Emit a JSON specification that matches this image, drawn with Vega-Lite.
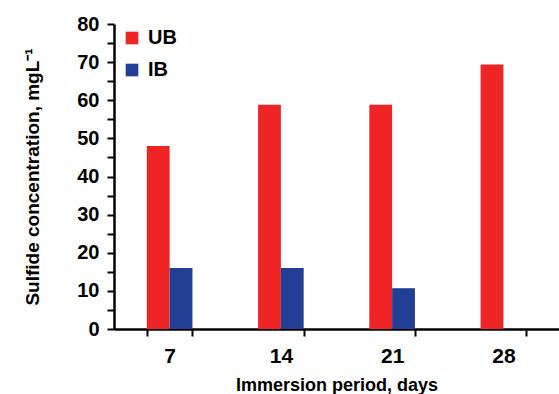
{
  "$schema": "https://vega.github.io/schema/vega-lite/v6.json",
  "width": 445,
  "height": 305,
  "autosize": {"type": "none"},
  "padding": {"left": 114, "top": 24, "right": 0, "bottom": 65},
  "background": "white",
  "config": {
    "font": "Liberation Sans",
    "view": {"stroke": null},
    "axis": {"grid": false, "domainColor": "black", "domainWidth": 2.5, "tickColor": "black", "tickWidth": 2, "labelFont": "Liberation Sans", "titleFont": "Liberation Sans", "labelFontWeight": "bold", "titleFontWeight": "bold", "labelColor": "black", "titleColor": "black"}
  },
  "data": {
    "values": [
      {"day": "7", "series": "UB", "value": 48.0},
      {"day": "7", "series": "IB", "value": 16.0},
      {"day": "14", "series": "UB", "value": 58.8},
      {"day": "14", "series": "IB", "value": 16.0},
      {"day": "21", "series": "UB", "value": 58.8},
      {"day": "21", "series": "IB", "value": 10.7},
      {"day": "28", "series": "UB", "value": 69.4}
    ]
  },
  "mark": {"type": "bar"},
  "encoding": {
    "x": {
      "field": "day", "type": "nominal", "sort": ["7", "14", "21", "28"],
      "scale": {"paddingInner": 0.59, "paddingOuter": 0.295},
      "axis": {"title": "Immersion period, days", "labelAngle": 0, "labelFontSize": 21, "titleFontSize": 18, "tickBand": "extent", "tickSize": 7, "labelPadding": 9, "titlePadding": 10}
    },
    "xOffset": {"field": "series", "type": "nominal", "sort": ["UB", "IB"]},
    "y": {
      "field": "value", "type": "quantitative",
      "scale": {"domain": [0, 80], "nice": false},
      "axis": {"title": "Sulfide concentration, mgL⁻¹", "values": [0,5,10,15,20,25,30,35,40,45,50,55,60,65,70,75,80], "labelExpr": "datum.value % 10 == 0 ? datum.label : ''", "labelFontSize": 20, "titleFontSize": 19, "tickSize": 7, "labelPadding": 8, "titlePadding": 34}
    },
    "color": {
      "field": "series", "type": "nominal",
      "scale": {"domain": ["UB", "IB"], "range": ["#EE2425", "#233E95"]},
      "legend": {"title": null, "orient": "none", "legendX": 8, "legendY": 4, "symbolType": "square", "symbolSize": 160, "symbolStrokeWidth": 0, "labelFontSize": 20, "labelFontWeight": "bold", "labelFont": "Liberation Sans", "labelColor": "black", "rowPadding": 12, "labelOffset": 6}
    }
  }
}
